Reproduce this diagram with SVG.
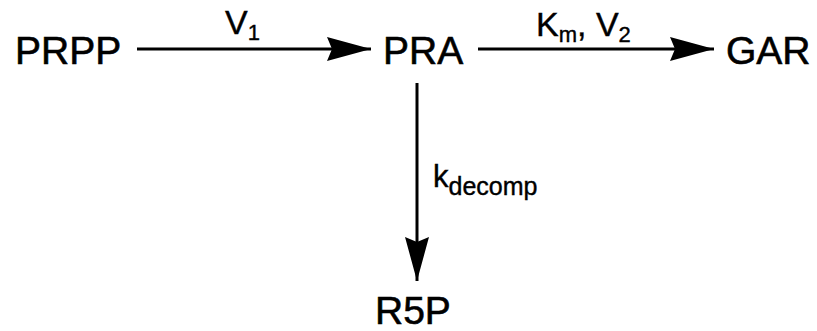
<svg xmlns="http://www.w3.org/2000/svg" width="817" height="331" viewBox="0 0 817 331">
<style>
.n{font-family:"Liberation Sans",Arial,sans-serif;font-size:39px;fill:#000;stroke:#000;stroke-width:0.6}
.l{font-family:"Liberation Sans",Arial,sans-serif;font-size:34px;fill:#000;stroke:#000;stroke-width:0.4}
.s{font-size:22px}
.e{stroke:#000;stroke-width:3;fill:none;marker-end:url(#ah)}
</style>
<defs>
<marker id="ah" viewBox="0 0 44 24" refX="44" refY="12" markerWidth="44" markerHeight="24" markerUnits="userSpaceOnUse" orient="auto">
<path d="M0,0 L44,12 L0,24 L5,12 Z" fill="#000"/>
</marker>
</defs>
<rect width="817" height="331" fill="#fff"/>
<g id="connectors">
<line class="e" x1="137" y1="49" x2="371" y2="49"/>
<line class="e" x1="478" y1="49" x2="714" y2="49"/>
<line class="e" x1="417" y1="83" x2="417" y2="281"/>
<text class="l" x="225" y="34">V<tspan class="s" dy="6">1</tspan></text>
<text class="l" x="536" y="36">K<tspan class="s" dy="6">m</tspan><tspan dy="-6">, V</tspan><tspan class="s" dy="6">2</tspan></text>
<text class="l" x="433" y="187" style="font-size:31px">k<tspan dy="8" style="font-size:25px">decomp</tspan></text>
</g>
<g id="PRPP"><text class="n" x="15" y="64">PRPP</text></g>
<g id="PRA"><text class="n" x="383" y="64">PRA</text></g>
<g id="GAR"><text class="n" x="726" y="64">GAR</text></g>
<g id="R5P"><text class="n" x="375" y="324">R5P</text></g>
</svg>
